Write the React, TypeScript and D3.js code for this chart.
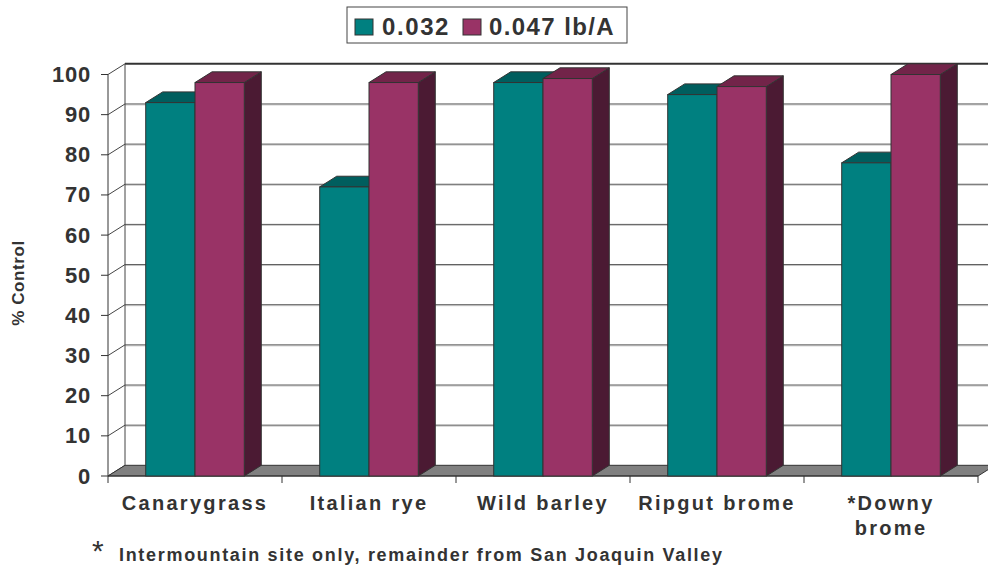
import React from "react";
import * as d3 from "d3";

const categories = ["Canarygrass", "Italian rye", "Wild barley", "Ripgut brome", "*Downy brome"];
const labelLines = [["Canarygrass"], ["Italian rye"], ["Wild barley"], ["Ripgut brome"], ["*Downy", "brome"]];
const seriesNames = ["0.032", "0.047 lb/A"];
const lowRate = [93, 72, 98, 95, 78];
const highRate = [98, 98, 99, 97, 100];
const yTicks = [0, 10, 20, 30, 40, 50, 60, 70, 80, 90, 100];
const footnote = "Intermountain site only, remainder from San Joaquin Valley";

const W = 988, H = 567;
const DX = 17, DY = 10.7;
const FONT = "'Liberation Sans', Arial, sans-serif";
const colors = [
  { front: "#008080", top: "#005e5e", side: "#004848" },
  { front: "#993366", top: "#722449", side: "#4b1a33" },
];

export default function App() {
  const x0 = d3.scaleBand<string>().domain(categories).range([108, 978]).padding(0);
  const x1 = d3.scaleBand<string>().domain(seriesNames).range([0, x0.bandwidth()]).paddingInner(0).paddingOuter(0.765);
  const y = d3.scaleLinear().domain([0, 100]).range([476, 74.5]);
  const data = [lowRate, highRate];
  const left = 108, right = 978;

  const floor = [
    [left, y(0)], [right, y(0)], [right + DX, y(0) - DY], [left + DX, y(0) - DY],
  ];

  return (
    <svg width={W} height={H} style={{ position: "absolute", left: 0, top: 0, background: "#fff" }} fontFamily={FONT}>
      {yTicks.filter(t => t > 0 && t < 100).map(t => (
        <g key={"g" + t}>
          <line x1={left + DX} x2={W} y1={y(t) - DY + 1} y2={y(t) - DY + 1} stroke="#c8c8c8" strokeWidth={1} />
          <line x1={left + DX} x2={W} y1={y(t) - DY} y2={y(t) - DY} stroke="#5a5a5a" strokeWidth={1} />
        </g>
      ))}
      <line x1={left + DX} x2={W} y1={y(100) - DY} y2={y(100) - DY} stroke="#333" strokeWidth={2} />
      <line x1={left + DX} x2={left + DX} y1={y(0) - DY} y2={y(100) - DY} stroke="#444" strokeWidth={1} />
      {yTicks.map(t => (
        <line key={"d" + t} x1={left} y1={y(t)} x2={left + DX} y2={y(t) - DY} stroke="#444" strokeWidth={1} />
      ))}
      <polygon points={floor.map(p => p.join(",")).join(" ")} fill="#808080" stroke="#333" strokeWidth={1} />
      <line x1={left} x2={left} y1={y(0)} y2={y(100)} stroke="#333" strokeWidth={1} />
      <line x1={left} x2={right} y1={y(0)} y2={y(0)} stroke="#333" strokeWidth={1} />
      {yTicks.map(t => (
        <g key={"t" + t}>
          <line x1={left - 7} x2={left} y1={y(t)} y2={y(t)} stroke="#333" />
          <text x={91} y={y(t) + 7.5} textAnchor="end" fontSize={22} fontWeight="bold" fill="#333" letterSpacing={0.8}>{t}</text>
        </g>
      ))}
      {d3.range(categories.length + 1).map(i => {
        const xv = i < categories.length ? (x0(categories[i]) as number) : right;
        return <line key={"xt" + i} x1={xv} x2={xv} y1={y(0)} y2={y(0) + 7} stroke="#333" />;
      })}
      {categories.map((c, ci) => (
        <g key={c}>
          {seriesNames.map((s, si) => {
            const v = data[si][ci];
            const bx = (x0(c) as number) + (x1(s) as number);
            const bw = x1.bandwidth();
            const top = y(v);
            const bottom = y(0);
            const col = colors[si];
            return (
              <g key={s}>
                <polygon
                  points={`${bx + bw},${bottom} ${bx + bw + DX},${bottom - DY} ${bx + bw + DX},${top - DY} ${bx + bw},${top}`}
                  fill={col.side} stroke="#333" strokeWidth={1} strokeLinejoin="round" />
                <polygon
                  points={`${bx},${top} ${bx + bw},${top} ${bx + bw + DX},${top - DY} ${bx + DX},${top - DY}`}
                  fill={col.top} stroke="#333" strokeWidth={1} strokeLinejoin="round" />
                <rect x={bx} y={top} width={bw} height={bottom - top} fill={col.front} stroke="#333" strokeWidth={1} />
              </g>
            );
          })}
        </g>
      ))}
      {categories.map((c, ci) => {
        const cx = (x0(c) as number) + x0.bandwidth() / 2;
        return labelLines[ci].map((ln, li) => (
          <text key={c + li} x={cx} y={510 + li * 25} textAnchor="middle" fontSize={20} fontWeight="bold" fill="#333" letterSpacing={2.3}>{ln}</text>
        ));
      })}
      <text transform="translate(24,283) rotate(-90)" textAnchor="middle" fontSize={17} fontWeight="bold" fill="#333" letterSpacing={0.6}>% Control</text>
      <rect x={347} y={7} width={280} height={36} fill="#fff" stroke="#444" strokeWidth={1} />
      <rect x={355} y={19} width={18} height={16} fill={colors[0].front} stroke="#333" />
      <text x={382} y={35} fontSize={24} fontWeight="bold" fill="#333" letterSpacing={1.6}>{seriesNames[0]}</text>
      <rect x={463} y={19} width={18} height={16} fill={colors[1].front} stroke="#333" />
      <text x={489} y={35} fontSize={24} fontWeight="bold" fill="#333" letterSpacing={1.4}>{seriesNames[1]}</text>
      <text x={92} y={561} fontSize={30} fill="#333">*</text>
      <text x={119} y={561} fontSize={18} fontWeight="bold" fill="#333" textLength={603} lengthAdjust="spacing">{footnote}</text>
    </svg>
  );
}
